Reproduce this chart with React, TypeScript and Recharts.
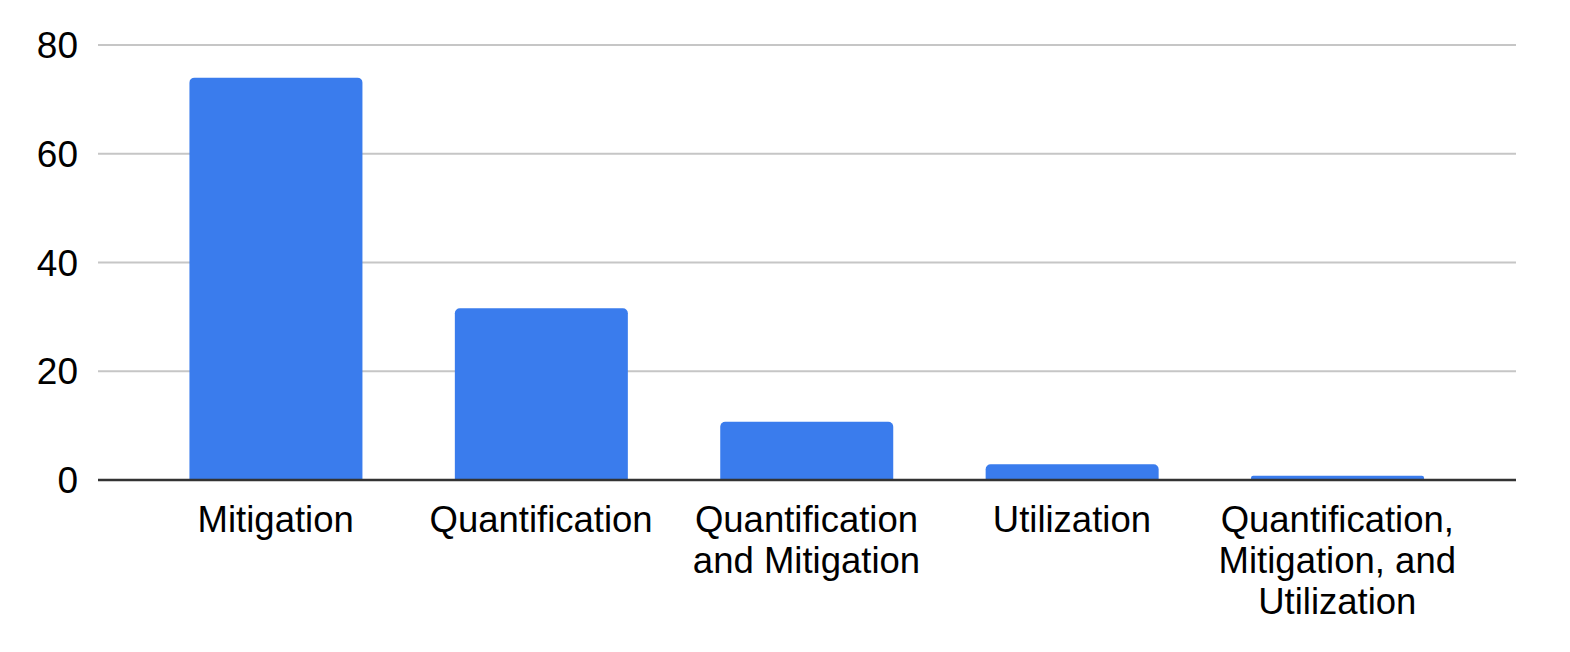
import React from 'react';
import { BarChart, Bar, XAxis, YAxis, CartesianGrid } from 'recharts';

const categories = [
  'Mitigation',
  'Quantification',
  'Quantification and Mitigation',
  'Utilization',
  'Quantification, Mitigation, and Utilization',
];
const counts = [74, 31.6, 10.7, 2.9, 0.8];
const yTicks = [0, 20, 40, 60, 80];

const data = categories.map((name, i) => ({ name, count: counts[i] }));

const FONT = '"Liberation Sans", Arial, sans-serif';

// greedy word wrap, max characters per line
const wrap = (s: string, max: number) => {
  const lines: string[] = [];
  let cur = '';
  s.split(' ').forEach((w) => {
    const next = cur ? cur + ' ' + w : w;
    if (next.length > max && cur) {
      lines.push(cur);
      cur = w;
    } else {
      cur = next;
    }
  });
  if (cur) lines.push(cur);
  return lines;
};

const CategoryTick = (props: any) => {
  const { x, y, payload } = props;
  const lines = wrap(String(payload.value), 15);
  return (
    <text
      x={x}
      y={y + 50}
      textAnchor="middle"
      fill="#000"
      style={{ fontFamily: FONT, fontSize: 36.5 }}
    >
      {lines.map((l, i) => (
        <tspan key={i} x={x} dy={i === 0 ? 0 : 41}>
          {l}
        </tspan>
      ))}
    </text>
  );
};

export default function App() {
  return (
    <div style={{ position: 'absolute', left: 0, top: 0, background: '#fff' }}>
      <BarChart
        width={1570}
        height={652}
        data={data}
        margin={{ top: 45, right: 54, bottom: 0, left: 0 }}
        barCategoryGap="17.5%"
      >
        <CartesianGrid vertical={false} stroke="#c6c6c6" strokeWidth={2} />
        <XAxis
          dataKey="name"
          height={172}
          interval={0}
          padding={{ left: 45, right: 46 }}
          tickLine={false}
          tickSize={0}
          axisLine={{ stroke: '#333', strokeWidth: 2.5 }}
          tick={<CategoryTick />}
        />
        <YAxis
          width={98}
          domain={[0, 80]}
          ticks={yTicks}
          axisLine={false}
          tickLine={false}
          tickSize={0}
          tickMargin={20}
          tick={{ fill: '#000', fontSize: 37, fontFamily: FONT }}
        />
        <Bar dataKey="count" fill="#3a7ced" radius={[5, 5, 0, 0]} isAnimationActive={false} />
      </BarChart>
    </div>
  );
}
